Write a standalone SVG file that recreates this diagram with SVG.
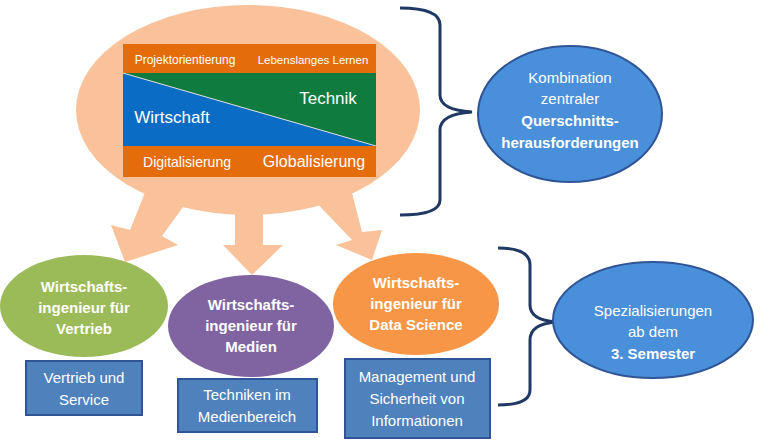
<svg xmlns="http://www.w3.org/2000/svg" width="776" height="446" viewBox="0 0 776 446">
<style>
text{font-family:"Liberation Sans",Arial,sans-serif;fill:#fff;text-anchor:middle}
.b{font-weight:bold;font-size:15px}
.n{font-size:15px}
.box{fill:#4F81BD;stroke:#2F5597;stroke-width:2}
.brace{fill:none;stroke:#1F3864;stroke-width:3}
.arr{fill:#F9C29A}
</style>
<rect width="776" height="446" fill="#fff"/>
<g id="connectors">
<polygon class="arr" points="148,185 188,200 162,236 178,245 125,262 111,225 130,230"/>
<polygon class="arr" points="235,190 263,190 263,245 283,245 252,275 223,245 235,245"/>
<polygon class="arr" points="312,198 350,185 362,232 382,230 372,260 336,245 352,240"/>
<path class="brace" d="M400,8 Q440,8 440,25 L440,95 Q440,110 472,112 Q440,114 440,130 L440,200 Q440,215 400,215"/>
<path class="brace" d="M498,248 Q530,248 530,265 L530,305 Q530,320 556,322 Q530,324 530,340 L530,390 Q530,405 498,405"/>
</g>
<g id="core">
<ellipse cx="248" cy="110" rx="172" ry="105" fill="#F9C29A"/>
<rect x="123" y="44" width="253" height="29" fill="#E46C0A"/>
<polygon points="123,73 376,73 376,146" fill="#0F7B3E"/>
<polygon points="123,73 376,146 123,146" fill="#0A6CC4"/>
<line x1="123" y1="73" x2="376" y2="146" stroke="#ddd" stroke-width="1"/>
<rect x="123" y="146" width="253" height="31" fill="#E46C0A"/>
<text x="185" y="64" font-size="12">Projektorientierung</text>
<text x="313" y="64" font-size="11.5">Lebenslanges Lernen</text>
<text x="328" y="104" font-size="17">Technik</text>
<text x="172" y="123" font-size="17">Wirtschaft</text>
<text x="187" y="167" font-size="14">Digitalisierung</text>
<text x="314" y="167" font-size="16">Globalisierung</text>
</g>
<g id="kombination">
<ellipse cx="570" cy="114" rx="92" ry="68" fill="#4A8FDA" stroke="#2F5597" stroke-width="2"/>
<text x="570" y="83" class="n">Kombination</text>
<text x="570" y="104" class="n">zentraler</text>
<text x="570" y="126" class="b">Querschnitts-</text>
<text x="570" y="148" class="b">herausforderungen</text>
</g>
<g id="spezialisierungen">
<ellipse cx="653" cy="320" rx="100" ry="58" fill="#4A8FDA" stroke="#2F5597" stroke-width="2"/>
<text x="653" y="316" class="n">Spezialisierungen</text>
<text x="653" y="337" class="n">ab dem</text>
<text x="653" y="359" class="b">3. Semester</text>
</g>
<g id="vertrieb">
<ellipse cx="84" cy="306" rx="84" ry="51" fill="#9BBB59"/>
<text x="84" y="292" class="b">Wirtschafts-</text>
<text x="84" y="313" class="b">ingenieur für</text>
<text x="84" y="334" class="b">Vertrieb</text>
<rect class="box" x="26" y="361" width="116" height="54"/>
<text x="84" y="383" class="n">Vertrieb und</text>
<text x="84" y="405" class="n">Service</text>
</g>
<g id="medien">
<ellipse cx="251" cy="326" rx="83" ry="51" fill="#8064A2"/>
<text x="251" y="310" class="b">Wirtschafts-</text>
<text x="251" y="331" class="b">ingenieur für</text>
<text x="251" y="352" class="b">Medien</text>
<rect class="box" x="178" y="379" width="139" height="53"/>
<text x="247" y="400" class="n">Techniken im</text>
<text x="247" y="422" class="n">Medienbereich</text>
</g>
<g id="datascience">
<ellipse cx="416" cy="304" rx="83" ry="51" fill="#F79646"/>
<text x="416" y="288" class="b">Wirtschafts-</text>
<text x="416" y="309" class="b">ingenieur für</text>
<text x="416" y="330" class="b">Data Science</text>
<rect class="box" x="345" y="359" width="145" height="79"/>
<text x="417" y="382" class="n">Management und</text>
<text x="417" y="404" class="n">Sicherheit von</text>
<text x="417" y="426" class="n">Informationen</text>
</g>
</svg>
